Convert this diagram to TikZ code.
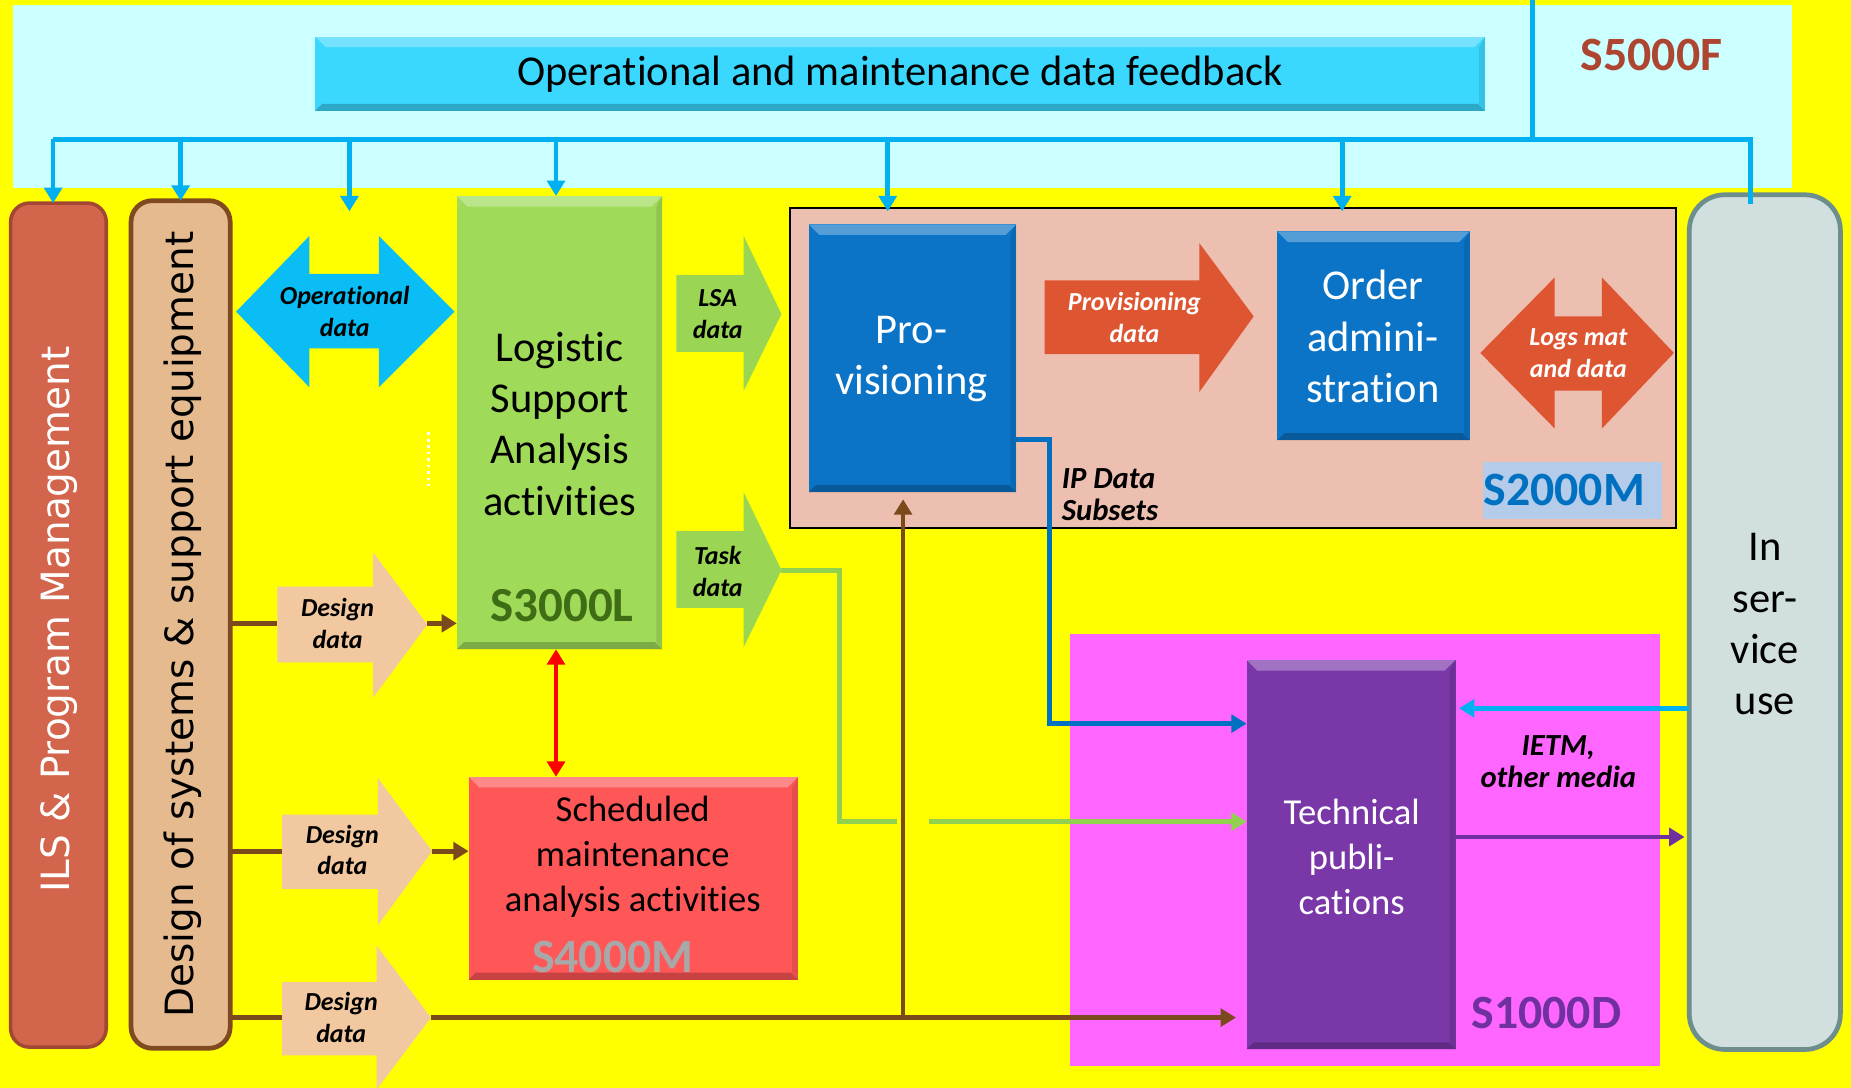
\documentclass[tikz,border=0pt]{standalone}
\usepackage{fontspec}
\setmainfont{Carlito}[Ligatures=NoCommon]
\newfontfamily\verd{DejaVu Sans}
\usetikzlibrary{arrows.meta,calc}
\definecolor{bgyellow}{HTML}{FFFF00}
\definecolor{s5fbg}{HTML}{CCFFFF}
\definecolor{feedcol}{HTML}{3AD8FF}
\definecolor{ilsred}{HTML}{D2654B}
\definecolor{ilsborder}{HTML}{A24733}
\definecolor{destan}{HTML}{E6BA8F}
\definecolor{desborder}{HTML}{7F4A1F}
\definecolor{lsagreen}{HTML}{9FDB58}
\definecolor{s4mred}{HTML}{FF5757}
\definecolor{s2mbg}{HTML}{EDBFB1}
\definecolor{provblue}{HTML}{0B74C7}
\definecolor{s1dmag}{HTML}{FF66FF}
\definecolor{techpurple}{HTML}{7A37A8}
\definecolor{insbg}{HTML}{D1DFDF}
\definecolor{insborder}{HTML}{6E8E8E}
\definecolor{fbblue}{HTML}{00B0F0}
\definecolor{opblue}{HTML}{0ABDF5}
\definecolor{arrgreen}{HTML}{9AD653}
\definecolor{orred}{HTML}{DE5532}
\definecolor{destanarr}{HTML}{F1C89F}
\definecolor{brownln}{HTML}{7A4A1C}
\definecolor{taskgreen}{HTML}{92D050}
\definecolor{ipblue}{HTML}{0070C0}
\definecolor{purpleln}{HTML}{7030A0}
\definecolor{s5ftext}{HTML}{AD4530}
\definecolor{s3ltext}{HTML}{3E6D16}
\definecolor{s4mtext}{HTML}{A8A8A8}
\definecolor{s2mlblbg}{HTML}{B4CCE9}
\begin{document}
\begin{tikzpicture}[x=1pt,y=-1pt,
  box/.style={inner sep=0pt, outer sep=0pt},
  bevel/.style={path picture={
    \fill[white,opacity=0.3] (path picture bounding box.north west) -- (path picture bounding box.north east)
      -- ([xshift=-9pt,yshift=-9pt]path picture bounding box.north east) -- ([xshift=9pt,yshift=-9pt]path picture bounding box.north west) -- cycle;
    \fill[black,opacity=0.22] (path picture bounding box.south west) -- (path picture bounding box.south east)
      -- ([xshift=-6pt,yshift=6pt]path picture bounding box.south east) -- ([xshift=6pt,yshift=6pt]path picture bounding box.south west) -- cycle;
    \fill[black,opacity=0.10] (path picture bounding box.north east) -- (path picture bounding box.south east)
      -- ([xshift=-5pt,yshift=6pt]path picture bounding box.south east) -- ([xshift=-5pt,yshift=-9pt]path picture bounding box.north east) -- cycle;
  }},
  bigtxt/.style={font=\fontsize{36}{43.5}\selectfont, align=center},
  midtxt/.style={font=\fontsize{31}{38}\selectfont, align=center},
  lbl/.style={font=\fontsize{22}{27}\selectfont\bfseries\itshape, align=center},
  stdname/.style={font=\fontsize{40.5}{46}\selectfont\bfseries},
  rottxt/.style={font=\verd\fontsize{33}{40}\selectfont, rotate=90},
  tipA/.style={-{Triangle[width=15pt,length=13pt]}},
  fbline/.style={draw=fbblue, line width=4pt},
  drop/.style={fbline, tipA},
  brownline/.style={draw=brownln, line width=4pt},
]
\useasboundingbox (0,0) rectangle (1568,921.6);
\fill[bgyellow] (0,0) rectangle (1568,921.6);

% regions
\node[box, fill=s5fbg, minimum width=1507pt, minimum height=155pt] (s5f) at (764.5,81.5) {};
\node[box, draw=black, line width=2pt, fill=s2mbg, minimum width=751pt, minimum height=271pt] (s2m) at (1044.5,311.5) {};
\node[box, fill=s1dmag, minimum width=500pt, minimum height=366pt] (s1d) at (1156,720) {};

% feedback bar
\node[box, bevel, fill=feedcol, minimum width=991pt, minimum height=63pt] (feed) at (762.5,62.5) {};
\node[bigtxt] (feedtxt) at (762.5,63) {Operational and maintenance data feedback};
\node[stdname, text=s5ftext] (s5flbl) at (1399,47) {S5000F};

% side boxes
\node[box, draw=ilsborder, line width=3pt, fill=ilsred, rounded corners=16pt, minimum width=81pt, minimum height=715pt] (ils) at (49.5,529.5) {};
\node[rottxt, text=white] (ilstxt) at (50,525) {ILS \& Program Management};
\node[box, draw=desborder, line width=4pt, fill=destan, rounded corners=18pt, minimum width=84pt, minimum height=718pt] (des) at (153,529) {};
\node[rottxt, text=black] (destxt) at (155,529) {Design of systems \& support equipment};
\node[box, draw=insborder, line width=4pt, fill=insbg, rounded corners=30pt, minimum width=128pt, minimum height=724pt] (ins) at (1495,527) {};
\node[bigtxt] (instxt) at (1495,529) {In\\ser-\\vice\\use};

% main boxes
\node[box, bevel, fill=lsagreen, minimum width=174pt, minimum height=384pt] (lsa) at (474,358) {};
\node[bigtxt] (lsatxt) at (474,359) {Logistic\\Support\\Analysis\\activities};
\node[stdname, font=\fontsize{41.5}{46}\selectfont\bfseries, text=s3ltext] (s3l) at (476,513) {S3000L};

\node[box, bevel, fill=s4mred, minimum width=279pt, minimum height=172pt] (s4m) at (536.5,744) {};
\node[midtxt] (s4mtxt) at (536,726) {Scheduled\\maintenance\\analysis activities};
\node[stdname, text=s4mtext] (s4mlbl) at (519,811) {S4000M};

\node[box, bevel, fill=provblue, minimum width=176pt, minimum height=227pt] (prov) at (773,303.5) {};
\node[bigtxt, text=white] (provtxt) at (772,304) {Pro-\\visioning};
\node[box, bevel, fill=provblue, minimum width=163pt, minimum height=177pt] (ord) at (1163.5,284.5) {};
\node[bigtxt, text=white] (ordtxt) at (1163,285) {Order\\admini-\\stration};
\node[box, fill=s2mlblbg, minimum width=152pt, minimum height=49pt] (s2mlblbg) at (1332,415.5) {};
\node[stdname, text=ipblue] (s2mlbl) at (1325,415) {S2000M};

\node[box, bevel, fill=techpurple, minimum width=177pt, minimum height=330pt] (tech) at (1144.5,724) {};
\node[midtxt, text=white] (techtxt) at (1145,726) {Technical\\publi-\\cations};
\node[stdname, text=purpleln] (s1dlbl) at (1310,858) {S1000D};

% block arrows
\fill[opblue] (200,264) -- (262,200) -- (262,232) -- (321,232) -- (321,200) -- (385,264) -- (321,328) -- (321,295) -- (262,295) -- (262,328) -- cycle;
\node[lbl] (opd) at (292,264) {Operational\\data};
\coordinate (opdtop) at (296,179);

\fill[arrgreen] (573,233) -- (630,233) -- (630,200) -- (662,266) -- (630,331) -- (630,298) -- (573,298) -- cycle;
\node[lbl] (lsad) at (608,266) {LSA\\data};

\fill[arrgreen] (573,450) -- (630,450) -- (630,417) -- (662,483) -- (630,548) -- (630,515) -- (573,515) -- cycle;
\node[lbl] (taskd) at (608,484) {Task\\data};
\coordinate (tasktip) at (662,483);

\fill[orred] (885,237.5) -- (1016,237.5) -- (1016,206) -- (1062,268) -- (1016,332) -- (1016,300) -- (885,300) -- cycle;
\node[lbl, text=white] (provd) at (961,269) {Provisioning\\data};

\fill[orred] (1254,299) -- (1317,235) -- (1317,268) -- (1357,268) -- (1357,235) -- (1418,299) -- (1357,363) -- (1357,331) -- (1317,331) -- (1317,363) -- cycle;
\node[lbl, text=white] (logsd) at (1337,299) {Logs mat\\and data};

\fill[destanarr] (235,497) -- (316,497) -- (316,468) -- (362,529) -- (316,591) -- (316,561) -- (235,561) -- cycle;
\node[lbl] (dd1) at (286,528) {Design\\data};
\coordinate (dd1tail) at (235,528);
\coordinate (dd1tip) at (362,528);

\fill[destanarr] (239,690) -- (320,690) -- (320,659) -- (366,721) -- (320,784) -- (320,753) -- (239,753) -- cycle;
\node[lbl] (dd2) at (290,720) {Design\\data};
\coordinate (dd2tail) at (239,721);
\coordinate (dd2tip) at (366,721);

\fill[destanarr] (239,832) -- (319,832) -- (319,801) -- (365,862) -- (319,923) -- (319,894) -- (239,894) -- cycle;
\node[lbl] (dd3) at (289,862) {Design\\data};
\coordinate (dd3tail) at (239,862);
\coordinate (dd3tip) at (365,862);

% texts
\node[lbl, font=\fontsize{26}{27}\selectfont\bfseries\itshape, align=left, anchor=west] (ipd) at (896,419) {IP Data\\Subsets};
\node[lbl, font=\fontsize{26}{27}\selectfont\bfseries\itshape] (ietm) at (1320,645) {IETM,\\other media};

% feedback bus
\coordinate (fbsrc) at (1298,0);
\coordinate (t1) at (45,118);
\coordinate (t2) at (153,118);
\coordinate (t3) at (296,118);
\coordinate (t4) at (471,118);
\coordinate (t5) at (752,118);
\coordinate (t6) at (1137,118);
\coordinate (t7) at (1483,118);
\draw[fbline] (fbsrc) -- (fbsrc |- t1);
\draw[fbline] (t1) -- (t7) -- ($(t7 |- ins.north)+(0,8)$);
\draw[drop] (t1) -- (t1 |- ils.north);
\draw[drop] (t2) -- (t2 |- des.north);
\draw[drop] (t3) -- (opdtop);
\draw[drop] (t4) -- (t4 |- lsa.north);
\draw[drop] (t5) -- ($(t5 |- s2m.north)+(0,3)$);
\draw[drop] (t6) -- ($(t6 |- s2m.north)+(0,3)$);

% red double arrow
\draw[draw=red, line width=4pt, {Triangle[width=15pt,length=13pt]}-{Triangle[width=15pt,length=13pt]}] (t4 |- lsa.south) -- (t4 |- s4m.north);

% white dotted mark
\coordinate (dotA) at (363,366);
\coordinate (dotB) at (363,412);
\draw[white, line width=2.5pt, dash pattern=on 2.5pt off 3pt] (dotA) -- (dotB);

% brown design lines
\draw[brownline] (des.east |- dd1tail) -- (dd1tail);
\draw[brownline, tipA] (dd1tip) -- (lsa.west |- dd1tip);
\draw[brownline] (des.east |- dd2tail) -- (dd2tail);
\draw[brownline, tipA] (dd2tip) -- (s4m.west |- dd2tip);
\draw[brownline] (des.east |- dd3tail) -- (dd3tail);
\draw[brownline, tipA] (dd3tip) -- ($(tech.west |- dd3tip)+(-9,0)$);
\coordinate (brj) at (765,862);
\draw[brownline, tipA] (brj) -- ($(brj |- prov.south)+(0,6)$);

% IP data subsets line
\coordinate (ipA) at (889,372);
\draw[draw=ipblue, line width=4pt, tipA] (prov.east |- ipA) -- (ipA) -- (ipA |- 0,613) -- (tech.west |- 0,613);

% task data line (with gap at the brown line)
\coordinate (tk1) at (711,483);
\coordinate (tk2) at (760,696);
\coordinate (tk3) at (787,696);
\draw[draw=taskgreen, line width=4pt] (tasktip) -- (tk1) -- (tk1 |- tk2) -- (tk2);
\draw[draw=taskgreen, line width=4pt, tipA] (tk3) -- (tech.west |- tk3);

% in-service feedback and IETM output
\draw[draw=fbblue, line width=4pt, tipA] (ins.west |- 0,600) -- ($(tech.east |- 0,600)+(3,0)$);
\draw[draw=purpleln, line width=4pt, tipA] (tech.east |- 0,709) -- ($(ins.west |- 0,709)+(-4,0)$);
\end{tikzpicture}
\end{document}
